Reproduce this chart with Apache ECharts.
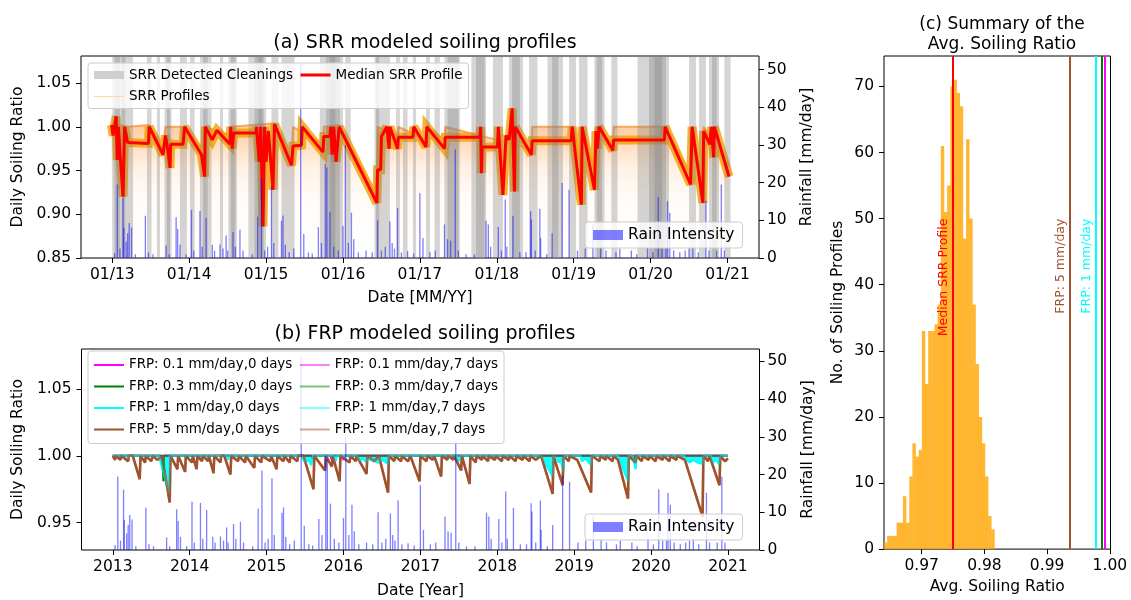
<!DOCTYPE html>
<html>
<head>
<meta charset="utf-8">
<script src="https://cdn.jsdelivr.net/npm/echarts@6/dist/echarts.min.js"></script>
<style>
  html, body { margin: 0; background: #fff; }
  #chart { width: 1131px; height: 600px; }
</style>
</head>
<body>
<div id="chart"></div>
<script>
// ---- data (x values are decimal years) ----
const yearTicks = [2013, 2014, 2015, 2016, 2017, 2018, 2019, 2020, 2021]
const srrTicks = [0.85, 0.90, 0.95, 1.00, 1.05]
const frpTicks = [0.95, 1.00, 1.05]
const rainTicks = [0, 10, 20, 30, 40, 50]
const histXTicks = [0.97, 0.98, 0.99, 1.00]
const histYTicks = [0, 10, 20, 30, 40, 50, 60, 70]

// detected cleaning periods [start, end]
const cleanings = [
  [2013.00, 2013.10], [2013.03, 2013.17], [2013.12, 2013.27], [2013.45, 2013.51],
  [2013.58, 2013.62], [2013.68, 2013.77], [2013.71, 2013.75], [2013.88, 2013.97],
  [2014.01, 2014.07], [2014.14, 2014.29], [2014.18, 2014.24], [2014.40, 2014.44],
  [2014.51, 2014.62], [2014.54, 2014.60], [2014.77, 2015.00], [2014.85, 2014.97],
  [2014.90, 2014.95], [2015.07, 2015.16], [2015.20, 2015.31], [2015.31, 2015.37],
  [2015.70, 2016.00], [2015.78, 2015.96], [2015.83, 2015.90], [2016.03, 2016.10],
  [2016.41, 2016.47], [2016.43, 2016.52], [2016.52, 2016.61], [2016.69, 2016.74],
  [2016.78, 2016.84], [2016.91, 2016.95], [2017.08, 2017.13], [2017.19, 2017.26],
  [2017.32, 2017.52], [2017.36, 2017.50], [2017.67, 2017.86], [2017.73, 2017.84],
  [2017.95, 2018.08], [2018.16, 2018.34], [2018.20, 2018.30], [2018.42, 2018.53],
  [2018.66, 2018.86], [2018.72, 2018.80], [2018.94, 2019.03], [2019.07, 2019.18],
  [2019.27, 2019.40], [2019.30, 2019.37], [2019.49, 2019.57], [2019.83, 2020.24],
  [2019.98, 2020.20], [2020.05, 2020.15], [2020.50, 2020.59], [2020.63, 2020.72],
  [2020.76, 2020.89], [2020.80, 2020.86], [2020.96, 2021.04]
]

// median SRR profile
const srrMedian = [
  [2012.99, 1.002], [2013.01, 0.990], [2013.05, 1.012], [2013.065, 0.962], [2013.08, 1.000],
  [2013.10, 0.970], [2013.14, 0.920], [2013.16, 1.000], [2013.20, 0.982], [2013.47, 0.981],
  [2013.48, 1.000], [2013.66, 0.968], [2013.69, 0.990], [2013.72, 0.975], [2013.75, 0.953],
  [2013.76, 0.980], [2013.92, 0.980], [2013.94, 1.000], [2014.16, 0.968], [2014.20, 0.943],
  [2014.21, 1.000], [2014.30, 0.985], [2014.36, 0.996], [2014.53, 0.980], [2014.54, 1.000],
  [2014.56, 0.975], [2014.58, 0.993], [2014.87, 0.993], [2014.875, 1.000], [2014.91, 0.960],
  [2014.93, 1.000], [2014.96, 0.886], [2014.98, 1.000], [2015.00, 0.960], [2015.03, 0.995],
  [2015.09, 0.928], [2015.11, 1.003], [2015.33, 0.956], [2015.35, 0.978], [2015.46, 0.979],
  [2015.47, 1.000], [2015.74, 0.971], [2015.75, 0.989], [2015.83, 0.989], [2015.84, 1.000],
  [2015.86, 0.968], [2015.88, 1.000], [2015.91, 0.960], [2015.95, 1.000], [2016.44, 0.913],
  [2016.45, 0.951], [2016.49, 0.951], [2016.50, 0.989], [2016.52, 0.989], [2016.57, 1.000],
  [2016.60, 0.975], [2016.61, 1.000], [2016.71, 0.975], [2016.72, 0.988], [2016.91, 0.988],
  [2016.92, 1.000], [2017.08, 0.977], [2017.09, 1.000], [2017.32, 0.975], [2017.33, 0.988],
  [2017.78, 0.988], [2017.79, 1.000], [2017.80, 0.947], [2017.81, 0.977], [2018.01, 0.977],
  [2018.02, 1.000], [2018.08, 0.922], [2018.12, 0.990], [2018.16, 0.985], [2018.20, 1.021],
  [2018.23, 0.926], [2018.24, 1.000], [2018.45, 0.968], [2018.46, 0.984], [2018.97, 0.984],
  [2018.98, 1.000], [2019.10, 0.911], [2019.11, 1.000], [2019.27, 0.928], [2019.29, 0.995],
  [2019.31, 0.975], [2019.33, 1.000], [2019.51, 0.973], [2019.52, 0.985], [2020.18, 0.985],
  [2020.19, 1.000], [2020.52, 0.934], [2020.54, 1.000], [2020.68, 0.913], [2020.69, 0.995],
  [2020.77, 0.980], [2020.79, 1.000], [2020.82, 0.965], [2020.83, 1.000], [2021.02, 0.943]
]

// upper edge of the SRR profile ensemble
const srrTop = [
  [2012.99, 1.004], [2013.20, 1.000], [2013.48, 1.002], [2013.66, 0.975], [2013.69, 1.000],
  [2013.94, 1.000], [2014.16, 0.975], [2014.21, 1.000], [2014.53, 0.990], [2014.54, 1.000],
  [2015.11, 1.004], [2015.33, 0.965], [2015.35, 1.000], [2015.74, 0.980], [2015.75, 1.000],
  [2015.95, 1.002], [2016.44, 0.920], [2016.45, 1.000], [2016.71, 0.990], [2016.72, 1.000],
  [2017.08, 0.985], [2017.09, 1.000], [2017.32, 0.985], [2017.33, 1.000], [2018.45, 0.975],
  [2018.46, 1.000], [2019.00, 1.000], [2019.10, 0.950], [2019.11, 1.000], [2019.27, 0.950],
  [2019.29, 1.000], [2019.51, 0.980], [2019.52, 1.000], [2020.19, 1.000], [2020.52, 0.945],
  [2020.54, 1.000], [2020.68, 0.930], [2020.69, 1.000], [2021.02, 0.955]
]

// daily rain [year, mm/day]
const rainEvents = [
  [2013.03, 1.3], [2013.065, 19.5], [2013.10, 2.5], [2013.14, 16], [2013.15, 8], [2013.18, 4.4],
  [2013.20, 6.6], [2013.22, 9.3], [2013.25, 8.1], [2013.30, 1], [2013.43, 11.2], [2013.47, 1.5],
  [2013.53, 1], [2013.70, 3.3], [2013.74, 1], [2013.83, 10.8], [2013.85, 7.7], [2013.88, 3.5],
  [2013.96, 1], [2014.03, 12.8], [2014.06, 2], [2014.14, 12.5], [2014.17, 3], [2014.22, 10.6],
  [2014.30, 3.5], [2014.33, 2], [2014.40, 3.6], [2014.44, 2.5], [2014.48, 6], [2014.50, 2],
  [2014.57, 6.9], [2014.60, 3], [2014.66, 7.5], [2014.70, 2], [2014.82, 1], [2014.89, 11],
  [2014.94, 21.1], [2014.98, 2], [2015.02, 3], [2015.07, 19], [2015.10, 4], [2015.20, 9.9],
  [2015.22, 11.3], [2015.25, 3.5], [2015.30, 1.5], [2015.36, 2.5], [2015.45, 51.5], [2015.49, 6.4],
  [2015.55, 1.5], [2015.60, 1.2], [2015.68, 8.2], [2015.72, 4], [2015.77, 25], [2015.79, 24],
  [2015.83, 12.3], [2015.88, 3], [2015.94, 2], [2016.00, 8.5], [2016.03, 30], [2016.07, 4],
  [2016.11, 12], [2016.14, 5], [2016.20, 1.5], [2016.30, 2], [2016.38, 1.5], [2016.45, 10],
  [2016.50, 2], [2016.55, 3], [2016.61, 9.7], [2016.64, 4], [2016.67, 2.5], [2016.71, 13.2],
  [2016.76, 1.5], [2016.84, 1.8], [2016.92, 1.2], [2017.00, 17.2], [2017.04, 5.3], [2017.13, 1.5],
  [2017.20, 2], [2017.32, 8.9], [2017.36, 5], [2017.40, 4.6], [2017.46, 28.8], [2017.50, 2],
  [2017.60, 1], [2017.71, 1], [2017.86, 9.9], [2017.89, 8.9], [2017.92, 3], [2018.02, 8.2],
  [2018.06, 2], [2018.11, 15.5], [2018.13, 3], [2018.21, 11.2], [2018.30, 1.5], [2018.38, 1.5],
  [2018.44, 12.4], [2018.45, 10.2], [2018.50, 2], [2018.56, 13.1], [2018.57, 5.3], [2018.65, 1],
  [2018.72, 6.6], [2018.85, 19.9], [2018.94, 18.1], [2019.05, 2], [2019.15, 2.5], [2019.25, 8.9],
  [2019.35, 3], [2019.42, 2], [2019.55, 1.5], [2019.60, 2.5], [2019.75, 2], [2019.82, 1],
  [2019.96, 3], [2020.03, 1.5], [2020.10, 16.1], [2020.15, 2.5], [2020.20, 2.5], [2020.22, 15.1],
  [2020.25, 12], [2020.30, 2], [2020.38, 1.5], [2020.45, 2], [2020.50, 2.5], [2020.55, 3],
  [2020.62, 1.5], [2020.72, 15.2], [2020.76, 2], [2020.86, 2], [2020.92, 19.5], [2020.96, 2]
]

// FRP profiles
const frp5 = [
  [2013.00, 1.0], [2013.03, 0.997], [2013.04, 1.0], [2013.10, 0.997], [2013.11, 1.0], [2013.20, 0.996],
  [2013.21, 1.0], [2013.26, 1.0], [2013.35, 0.9825], [2013.36, 1.0], [2013.42, 0.995], [2013.43, 1.0],
  [2013.50, 0.996], [2013.52, 1.0], [2013.58, 0.997], [2013.64, 1.0], [2013.74, 0.965], [2013.75, 1.0],
  [2013.84, 0.990], [2013.85, 1.0], [2013.94, 0.988], [2013.95, 1.0], [2014.03, 0.995], [2014.04, 1.0],
  [2014.09, 0.990], [2014.10, 1.0], [2014.16, 0.996], [2014.17, 1.0], [2014.24, 0.996], [2014.25, 1.0],
  [2014.31, 0.987], [2014.32, 1.0], [2014.40, 0.995], [2014.41, 1.0], [2014.45, 1.0], [2014.53, 0.986],
  [2014.54, 1.0], [2014.63, 0.996], [2014.64, 1.0], [2014.72, 0.995], [2014.73, 1.0], [2014.84, 0.991],
  [2014.85, 1.0], [2014.93, 0.995], [2014.94, 1.0], [2015.05, 0.996], [2015.06, 1.0], [2015.13, 0.990],
  [2015.14, 1.0], [2015.22, 0.996], [2015.23, 1.0], [2015.30, 0.995], [2015.31, 1.0], [2015.40, 0.996],
  [2015.41, 1.0], [2015.48, 1.0], [2015.61, 0.975], [2015.62, 1.0], [2015.76, 0.989], [2015.77, 1.0],
  [2015.85, 0.992], [2015.86, 1.0], [2015.95, 0.981], [2015.96, 1.0], [2016.08, 0.995], [2016.09, 1.0],
  [2016.16, 0.996], [2016.17, 1.0], [2016.30, 0.9865], [2016.31, 1.0], [2016.40, 0.996], [2016.46, 1.0],
  [2016.58, 0.9725], [2016.59, 1.0], [2016.66, 0.996], [2016.67, 1.0], [2016.75, 0.996], [2016.76, 1.0],
  [2016.84, 0.996], [2016.87, 1.0], [2016.99, 0.981], [2017.00, 1.0], [2017.08, 0.996], [2017.09, 1.0],
  [2017.16, 0.997], [2017.18, 1.0], [2017.27, 0.9845], [2017.28, 1.0], [2017.35, 0.997], [2017.36, 1.0],
  [2017.43, 0.997], [2017.44, 1.0], [2017.53, 0.989], [2017.54, 1.0], [2017.64, 0.979], [2017.65, 1.0],
  [2017.72, 0.995], [2017.73, 1.0], [2017.80, 0.997], [2017.81, 1.0], [2017.88, 0.996], [2017.89, 1.0],
  [2017.97, 0.997], [2017.98, 1.0], [2018.06, 0.996], [2018.07, 1.0], [2018.15, 0.997], [2018.16, 1.0],
  [2018.24, 0.996], [2018.25, 1.0], [2018.33, 0.997], [2018.34, 1.0], [2018.42, 0.996], [2018.43, 1.0],
  [2018.50, 0.997], [2018.57, 1.0], [2018.72, 0.9715], [2018.73, 1.0], [2018.85, 0.978], [2018.86, 1.0],
  [2018.93, 0.996], [2018.94, 1.0], [2019.04, 0.997], [2019.22, 0.9725], [2019.23, 1.0], [2019.33, 0.996],
  [2019.34, 1.0], [2019.41, 0.997], [2019.42, 1.0], [2019.50, 0.996], [2019.51, 1.0], [2019.57, 0.997],
  [2019.70, 0.968], [2019.71, 1.0], [2019.80, 0.995], [2019.81, 1.0], [2019.88, 0.996], [2019.89, 1.0],
  [2019.97, 0.997], [2019.98, 1.0], [2020.06, 0.996], [2020.07, 1.0], [2020.15, 0.997], [2020.16, 1.0],
  [2020.24, 0.996], [2020.25, 1.0], [2020.33, 0.997], [2020.34, 1.0], [2020.44, 0.997], [2020.67, 0.9545],
  [2020.68, 1.0], [2020.74, 0.996], [2020.76, 1.0], [2020.89, 0.978], [2020.90, 1.0], [2020.96, 0.996],
  [2021.00, 0.998]
]
const frp1 = [
  [2013.00, 1.0], [2013.18, 1.0], [2013.20, 0.998], [2013.21, 1.0], [2013.60, 1.0], [2013.73, 0.972],
  [2013.74, 1.0], [2014.48, 1.0], [2014.50, 0.997], [2014.51, 1.0], [2015.45, 1.0], [2015.50, 0.995],
  [2015.55, 0.997], [2015.58, 0.993], [2015.60, 1.0], [2015.88, 1.0], [2015.90, 0.996], [2015.91, 1.0],
  [2016.18, 1.0], [2016.20, 0.996], [2016.25, 0.998], [2016.30, 0.995], [2016.31, 0.998], [2016.45, 0.995],
  [2016.50, 0.997], [2016.58, 0.994], [2016.59, 1.0], [2017.48, 1.0], [2017.50, 0.996], [2017.52, 1.0],
  [2018.57, 1.0], [2018.72, 0.9845], [2018.73, 1.0], [2018.78, 0.997], [2018.80, 0.995], [2018.82, 0.998],
  [2018.86, 0.988], [2018.87, 1.0], [2019.08, 1.0], [2019.10, 0.996], [2019.15, 0.998], [2019.22, 0.993],
  [2019.23, 1.0], [2019.57, 1.0], [2019.70, 0.981], [2019.71, 1.0], [2019.76, 1.0], [2019.78, 0.995],
  [2019.80, 0.990], [2019.81, 1.0], [2020.43, 1.0], [2020.45, 0.997], [2020.50, 0.995], [2020.55, 0.997],
  [2020.60, 0.995], [2020.67, 0.994], [2020.68, 1.0], [2020.78, 1.0], [2020.80, 0.995], [2020.85, 0.997],
  [2020.89, 0.993], [2020.90, 1.0], [2021.00, 1.0]
]
const frp03 = [
  [2013.00, 1.0], [2013.64, 1.0], [2013.66, 0.981], [2013.665, 1.0], [2015.58, 1.0], [2015.60, 0.998],
  [2015.61, 1.0], [2019.76, 1.0], [2019.78, 0.995], [2019.79, 1.0], [2021.00, 1.0]
]
const frp01 = [
  [2013.00, 1.0], [2013.61, 1.0], [2013.63, 0.997], [2013.64, 1.0], [2015.83, 1.0], [2015.85, 0.997],
  [2015.86, 1.0], [2015.98, 1.0], [2016.00, 0.997], [2016.01, 1.0], [2021.00, 1.0]
]

// histogram of avg soiling ratio
const histStart = 0.9640
const histBin = 0.000503
const histCounts = [1, 2, 2, 2, 4, 4, 8, 4, 11, 16, 14, 15, 33, 25, 33, 33, 34, 37, 61, 51,
  55, 70, 71, 69, 67, 47, 62, 50, 37, 28, 20, 16, 11, 5, 3]

// average soiling ratio of the reference profiles
const avgLines = [
  { name: 'Median SRR Profile', value: 0.9749, color: '#ff0000', label: true },
  { name: 'FRP: 5 mm/day', value: 0.99361, color: '#a0522d', label: true },
  { name: 'FRP: 1 mm/day', value: 0.99768, color: '#00ffff', label: true },
  { name: 'FRP: 0.3 mm/day', value: 0.99864, color: '#008000', label: false },
  { name: 'FRP: 0.1 mm/day', value: 0.99920, color: '#ff00ff', label: false }
]

// ---- chart ----
const FONT = 'DejaVu Sans'
const chart = echarts.init(document.getElementById('chart'), null, { renderer: 'canvas' })

// thin bar icon for legend handles
function barIcon(h) {
  const a = (14 - h) / 2
  const b = a + h
  return 'path://M0,0L0.01,0L0,0.01Z M0,' + a + 'L30,' + a + 'L30,' + b + 'L0,' + b + 'Z M29.99,14L30,14L30,13.99Z'
}

const tickLabel = { fontSize: 15.5, color: '#000', fontFamily: FONT }
const nameStyle = { fontSize: 15.5, color: '#000', fontFamily: FONT }
const titleStyle = { fontSize: 19, fontWeight: 'normal', color: '#000', fontFamily: FONT }
function valueAxis(extra) {
  return Object.assign({
    type: 'value',
    splitLine: { show: false },
    axisLine: { show: false },
    nameLocation: 'middle',
    nameTextStyle: nameStyle
  }, extra)
}
function ticks(vals) {
  return { show: true, length: 5, lineStyle: { color: '#000' }, customValues: vals }
}

const frpColors = { '0.1': '#ff00ff', '0.3': '#008000', '1': '#00ffff', '5': '#a0522d' }
const frpData = { '0.1': frp01, '0.3': frp03, '1': frp1, '5': frp5 }
const frpSeries = []
const frpLegend0 = []
const frpLegend7 = []
;['0', '7'].forEach(function (d) {
  ;['0.1', '0.3', '1', '5'].forEach(function (k) {
    const name = 'FRP: ' + k + ' mm/day,' + d + ' days'
    const col = frpColors[k]
    const op = d === '7' ? 0.5 : 1
    const s = {
      name: name,
      type: 'line',
      xAxisIndex: 1,
      yAxisIndex: 2,
      data: frpData[k],
      symbol: 'none',
      lineStyle: { color: col, width: k === '5' ? 2.5 : 2, opacity: op },
      itemStyle: { color: col },
      z: d === '7' ? 3 : 2
    }
    if (k === '1') s.areaStyle = { origin: 1.0, color: col, opacity: d === '7' ? 0.4 : 0.85 }
    frpSeries.push(s)
    const item = { name: name, icon: barIcon(2.2), itemStyle: { color: col, opacity: op } }
    if (d === '0') frpLegend0.push(item)
    else frpLegend7.push(item)
  })
})

const legendBox = {
  backgroundColor: 'rgba(255,255,255,0.8)',
  borderColor: '#cccccc',
  borderWidth: 1,
  borderRadius: 3,
  selectedMode: false,
  z: 10
}

chart.setOption({
  animation: false,
  backgroundColor: '#fff',
  textStyle: { fontFamily: FONT },
  title: [
    { text: '(a) SRR modeled soiling profiles', left: 420, top: 29, textAlign: 'center', textStyle: titleStyle },
    { text: '(b) FRP modeled soiling profiles', left: 420, top: 320, textAlign: 'center', textStyle: titleStyle },
    { text: '(c) Summary of the\nAvg. Soiling Ratio', left: 997, top: 10, textAlign: 'center',
      textStyle: Object.assign({}, titleStyle, { fontSize: 17, lineHeight: 20 }) }
  ],
  legend: [
    Object.assign({
      data: [
        { name: 'SRR Detected Cleanings', icon: barIcon(8), itemStyle: { color: '#cfcfcf' } },
        { name: 'SRR Profiles', icon: barIcon(1.2), itemStyle: { color: '#ffd9a0' } },
        { name: 'Median SRR Profile', icon: barIcon(3), itemStyle: { color: '#ff0000' } }
      ],
      orient: 'vertical', left: 88, top: 63, height: 40,
      itemWidth: 30, itemHeight: 14, itemGap: 7.5, padding: [5, 6],
      textStyle: { fontSize: 13.5, color: '#000', padding: [0, 24, 0, 0] }
    }, legendBox),
    Object.assign({
      data: frpLegend0.concat(frpLegend7),
      orient: 'vertical', left: 88, top: 351, height: 82,
      itemWidth: 30, itemHeight: 14, itemGap: 7.5, padding: [7, 6],
      textStyle: { fontSize: 13.4, color: '#000', padding: [0, 11, 0, 0] }
    }, legendBox),
    Object.assign({
      data: [{ name: 'Rain Intensity', icon: barIcon(10), itemStyle: { color: 'rgba(0,0,255,0.5)' } }],
      left: 585, top: 222, itemWidth: 30, itemHeight: 14, padding: [5, 8],
      textStyle: { fontSize: 15.5, color: '#000' }
    }, legendBox),
    Object.assign({
      data: [{ name: 'Rain Intensity', icon: barIcon(10), itemStyle: { color: 'rgba(0,0,255,0.5)' } }],
      left: 585, top: 514, itemWidth: 30, itemHeight: 14, padding: [5, 8],
      textStyle: { fontSize: 15.5, color: '#000' }
    }, legendBox)
  ],
  grid: [
    { left: 81, top: 56, width: 678, height: 202, show: true, borderColor: '#000', borderWidth: 1, backgroundColor: 'transparent' },
    { left: 81.5, top: 349, width: 678, height: 201, show: true, borderColor: '#000', borderWidth: 1, backgroundColor: 'transparent' },
    { left: 884, top: 56, width: 226.5, height: 494, show: true, borderColor: '#000', borderWidth: 1, backgroundColor: 'transparent' }
  ],
  xAxis: [
    valueAxis({
      gridIndex: 0, min: 2012.593, max: 2021.41,
      name: 'Date [MM/YY]', nameGap: 32,
      axisTick: ticks(yearTicks),
      axisLabel: Object.assign({ customValues: yearTicks, margin: 9,
        formatter: function (v) { return '01/' + String(Math.round(v)).slice(2) } }, tickLabel)
    }),
    valueAxis({
      gridIndex: 1, min: 2012.593, max: 2021.41,
      name: 'Date [Year]', nameGap: 33,
      axisTick: ticks(yearTicks),
      axisLabel: Object.assign({ customValues: yearTicks, margin: 9,
        formatter: function (v) { return String(Math.round(v)) } }, tickLabel)
    }),
    valueAxis({
      gridIndex: 2, min: 0.964, max: 1.0001,
      name: 'Avg. Soiling Ratio', nameGap: 27,
      axisTick: ticks(histXTicks),
      axisLabel: Object.assign({ customValues: histXTicks, margin: 9,
        formatter: function (v) { return v.toFixed(2) } }, tickLabel)
    })
  ],
  yAxis: [
    valueAxis({
      gridIndex: 0, min: 0.85, max: 1.0809,
      name: 'Daily Soiling Ratio', nameGap: 55,
      axisTick: ticks(srrTicks),
      axisLabel: Object.assign({ customValues: srrTicks, margin: 10,
        formatter: function (v) { return v.toFixed(2) } }, tickLabel)
    }),
    valueAxis({
      gridIndex: 0, position: 'right', min: 0, max: 53.6,
      name: 'Rainfall [mm/day]', nameGap: 40,
      axisTick: ticks(rainTicks),
      axisLabel: Object.assign({ customValues: rainTicks, margin: 8 }, tickLabel)
    }),
    valueAxis({
      gridIndex: 1, min: 0.9295, max: 1.080,
      name: 'Daily Soiling Ratio', nameGap: 55,
      axisTick: ticks(frpTicks),
      axisLabel: Object.assign({ customValues: frpTicks, margin: 10,
        formatter: function (v) { return v.toFixed(2) } }, tickLabel)
    }),
    valueAxis({
      gridIndex: 1, position: 'right', min: 0, max: 53.3,
      name: 'Rainfall [mm/day]', nameGap: 40,
      axisTick: ticks(rainTicks),
      axisLabel: Object.assign({ customValues: rainTicks, margin: 8 }, tickLabel)
    }),
    valueAxis({
      gridIndex: 2, min: 0, max: 74.6,
      name: 'No. of Soiling Profiles', nameGap: 38,
      axisTick: ticks(histYTicks),
      axisLabel: Object.assign({ customValues: histYTicks, margin: 10 }, tickLabel)
    })
  ],
  series: [
    // (a) SRR profile ensemble, haze below the upper edge
    {
      name: 'SRR Profiles', type: 'line', xAxisIndex: 0, yAxisIndex: 0,
      data: srrTop, symbol: 'none', z: 2,
      lineStyle: { color: 'rgba(255,140,30,0.7)', width: 2 },
      itemStyle: { color: '#ffd9a0' },
      areaStyle: {
        color: new echarts.graphic.LinearGradient(0, 0, 0, 1, [
          { offset: 0, color: 'rgba(255,130,30,0.6)' },
          { offset: 0.15, color: 'rgba(255,140,40,0.45)' },
          { offset: 0.32, color: 'rgba(255,150,60,0.2)' },
          { offset: 0.55, color: 'rgba(255,160,80,0.06)' },
          { offset: 1, color: 'rgba(255,170,90,0)' }
        ])
      }
    },
    // dense core of the profile ensemble around the median
    {
      name: 'SRR Profiles', type: 'line', xAxisIndex: 0, yAxisIndex: 0,
      data: srrMedian, symbol: 'none', z: 2,
      lineStyle: { color: 'rgba(245,160,0,0.8)', width: 9, join: 'miter', miterLimit: 3 }
    },
    {
      name: 'SRR Detected Cleanings', type: 'custom', xAxisIndex: 0, yAxisIndex: 0,
      data: cleanings, z: 3, encode: { x: [0, 1] },
      itemStyle: { color: '#cfcfcf' },
      renderItem: function (params, api) {
        const cs = params.coordSys
        const x0 = api.coord([api.value(0), 1])[0]
        const x1 = api.coord([api.value(1), 1])[0]
        return { type: 'rect', shape: { x: x0, y: cs.y, width: Math.max(1, x1 - x0), height: cs.height },
          style: { fill: 'rgba(128,128,128,0.33)' } }
      }
    },
    {
      name: 'Median SRR Profile', type: 'line', xAxisIndex: 0, yAxisIndex: 0,
      data: srrMedian, symbol: 'none', z: 4,
      lineStyle: { color: '#ff0000', width: 3 }, itemStyle: { color: '#ff0000' }
    },
    {
      name: 'Rain Intensity', type: 'bar', xAxisIndex: 0, yAxisIndex: 1,
      data: rainEvents, barWidth: 1.3, z: 5,
      itemStyle: { color: 'rgba(0,0,255,0.5)' }
    },
    // (b)
    ...frpSeries,
    {
      name: 'Rain Intensity', type: 'bar', xAxisIndex: 1, yAxisIndex: 3,
      data: rainEvents, barWidth: 1.3, z: 5,
      itemStyle: { color: 'rgba(0,0,255,0.5)' }
    },
    // (c) histogram
    {
      name: 'hist', type: 'custom', xAxisIndex: 2, yAxisIndex: 4, z: 2,
      data: histCounts.map(function (c, i) { return [histStart + i * histBin, histStart + (i + 1) * histBin, c] }),
      encode: { x: [0, 1], y: 2 },
      renderItem: function (params, api) {
        const p0 = api.coord([api.value(0), api.value(2)])
        const p1 = api.coord([api.value(1), 0])
        return { type: 'rect', shape: { x: p0[0], y: p0[1], width: p1[0] - p0[0] + 0.3, height: p1[1] - p0[1] },
          style: { fill: 'rgba(255,165,0,0.8)' } }
      },
      markLine: {
        silent: true, symbol: 'none', precision: 6, label: { show: false },
        data: avgLines.map(function (l) {
          return { xAxis: l.value, lineStyle: { color: l.color, width: 2, type: 'solid' } }
        })
      }
    }
  ]
})

// rotated labels next to the reference lines in (c)
const labelGraphics = avgLines.filter(function (l) { return l.label }).map(function (l) {
  const p = chart.convertToPixel({ xAxisIndex: 2, yAxisIndex: 4 }, [l.value, 50])
  return {
    type: 'text', x: p[0] - 2.5, y: p[1], rotation: Math.PI / 2, z: 20,
    style: { text: l.name, fill: l.color, fontSize: 12.5, fontFamily: FONT, align: 'right', verticalAlign: 'bottom' }
  }
})
chart.setOption({ graphic: labelGraphics })
</script>
</body>
</html>
